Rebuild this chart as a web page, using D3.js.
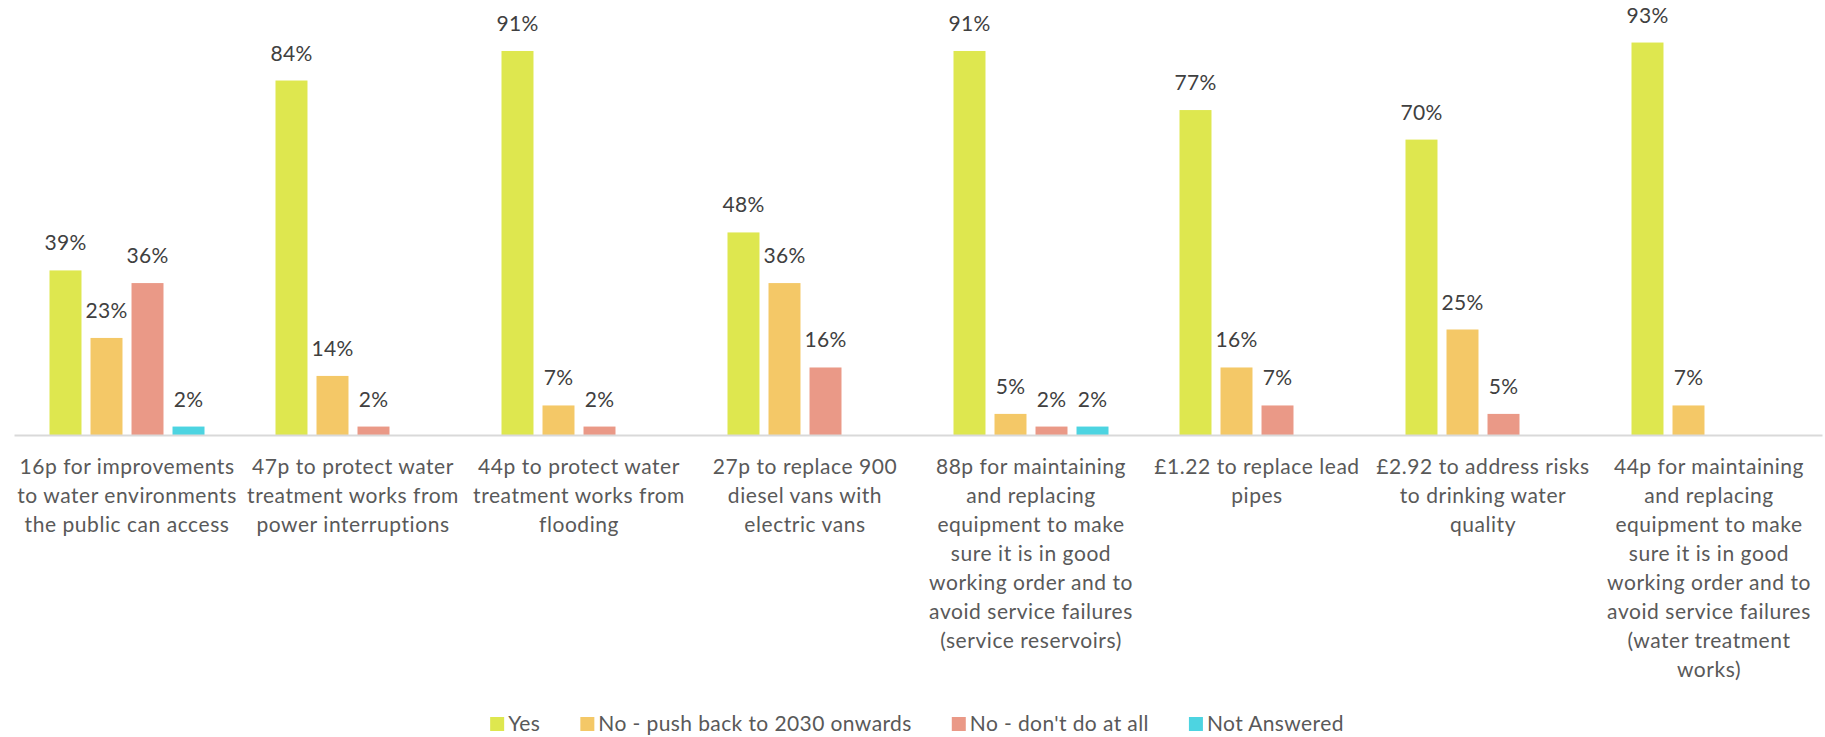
<!DOCTYPE html>
<html>
<head>
<meta charset="utf-8">
<script src="https://cdn.jsdelivr.net/npm/d3@7/dist/d3.min.js"></script>
<style>
  html, body { margin: 0; padding: 0; background: #ffffff; }
  svg { display: block; }
  text { font-family: Lato, "Open Sans", sans-serif; }
</style>
</head>
<body>
<svg id="chart" width="1825" height="737"></svg>
<script>
// Share of respondents supporting each proposed bill investment
const categories = [
  "16p for improvements to water environments the public can access",
  "47p to protect water treatment works from power interruptions",
  "44p to protect water treatment works from flooding",
  "27p to replace 900 diesel vans with electric vans",
  "88p for maintaining and replacing equipment to make sure it is in good working order and to avoid service failures (service reservoirs)",
  "£1.22 to replace lead pipes",
  "£2.92 to address risks to drinking water quality",
  "44p for maintaining and replacing equipment to make sure it is in good working order and to avoid service failures (water treatment works)"
];

// Wrapped tick label lines for each category
const categoryLines = [
  ["16p for improvements", "to water environments", "the public can access"],
  ["47p to protect water", "treatment works from", "power interruptions"],
  ["44p to protect water", "treatment works from", "flooding"],
  ["27p to replace 900", "diesel vans with", "electric vans"],
  ["88p for maintaining", "and replacing", "equipment to make", "sure it is in good", "working order and to", "avoid service failures", "(service reservoirs)"],
  ["£1.22 to replace lead", "pipes"],
  ["£2.92 to address risks", "to drinking water", "quality"],
  ["44p for maintaining", "and replacing", "equipment to make", "sure it is in good", "working order and to", "avoid service failures", "(water treatment", "works)"]
];

const seriesNames = ["Yes", "No - push back to 2030 onwards", "No - don't do at all", "Not Answered"];
const seriesColors = ["#dee74f", "#f4c867", "#ea9987", "#4dd4e1"];

// Percentages; null where no bar is shown
const yesValues         = [39, 84, 91, 48, 91, 77, 70, 93];
const pushBackValues    = [23, 14,  7, 36,  5, 16, 25,  7];
const dontDoValues      = [36,  2,  2, 16,  2,  7,  5, null];
const notAnsweredValues = [ 2, null, null, null, 2, null, null, null];

const seriesValues = [yesValues, pushBackValues, dontDoValues, notAnsweredValues];

const svg = d3.select("#chart");

const plot = { left: 14, right: 1822, top: 13, bottom: 435 };

const x0 = d3.scaleBand()
  .domain(categories)
  .range([plot.left, plot.right])
  .paddingInner(0)
  .paddingOuter(0);

const innerSpan = 155;
const x1 = d3.scaleBand()
  .domain(seriesNames)
  .range([(x0.bandwidth() - innerSpan) / 2, (x0.bandwidth() + innerSpan) / 2])
  .paddingInner(0.22)
  .paddingOuter(0);

const y = d3.scaleLinear()
  .domain([0, 100])
  .range([plot.bottom, plot.top]);

const color = d3.scaleOrdinal().domain(seriesNames).range(seriesColors);

// Flatten into one record per bar
const bars = [];
categories.forEach((cat, i) => {
  seriesNames.forEach((s, j) => {
    const v = seriesValues[j][i];
    if (v !== null && v !== undefined) bars.push({ cat, series: s, value: v });
  });
});

svg.append("g").attr("class", "bars")
  .selectAll("rect")
  .data(bars)
  .join("rect")
  .attr("x", d => x0(d.cat) + x1(d.series))
  .attr("y", d => y(d.value))
  .attr("width", x1.bandwidth())
  .attr("height", d => y(0) - y(d.value))
  .attr("fill", d => color(d.series));

// Value labels above bars
svg.append("g").attr("class", "labels")
  .selectAll("text")
  .data(bars)
  .join("text")
  .attr("x", d => x0(d.cat) + x1(d.series) + x1.bandwidth() / 2)
  .attr("y", d => y(d.value) - 20)
  .attr("text-anchor", "middle")
  .attr("font-size", 21)
  .attr("letter-spacing", "0.3px")
  .attr("fill", "#404040")
  .text(d => d.value + "%");

// Category axis
const xAxis = d3.axisBottom(x0).tickSize(0).tickSizeOuter(0).tickFormat(() => "");
const axisG = svg.append("g")
  .attr("transform", `translate(0,${plot.bottom})`)
  .call(xAxis);
axisG.select(".domain").attr("stroke", "#d9d9d9").attr("stroke-width", 2);

axisG.selectAll(".tick text").remove();
axisG.selectAll(".tick")
  .append("text")
  .attr("text-anchor", "middle")
  .attr("font-size", 21)
  .attr("letter-spacing", "0.55px")
  .attr("fill", "#595959")
  .each(function (d) {
    const lines = categoryLines[categories.indexOf(d)];
    const t = d3.select(this);
    lines.forEach((ln, k) => {
      t.append("tspan").attr("x", 0).attr("y", 39 + k * 29).text(ln);
    });
  });

// Legend
const legend = svg.append("g").attr("class", "legend");
const items = legend.selectAll("g")
  .data(seriesNames)
  .join("g");
items.append("rect")
  .attr("width", 14).attr("height", 14)
  .attr("y", -7)
  .attr("fill", d => color(d));
items.append("text")
  .attr("x", 18)
  .attr("y", 7)
  .attr("font-size", 21)
  .attr("letter-spacing", "0.4px")
  .attr("fill", "#595959")
  .text(d => d);

let offset = 0;
const gap = 40;
items.each(function () {
  const w = this.getBBox().width;
  d3.select(this).attr("transform", `translate(${offset},0)`);
  offset += w + gap;
});
const total = offset - gap;
legend.attr("transform", `translate(${917 - total / 2},724)`);
</script>
</body>
</html>
